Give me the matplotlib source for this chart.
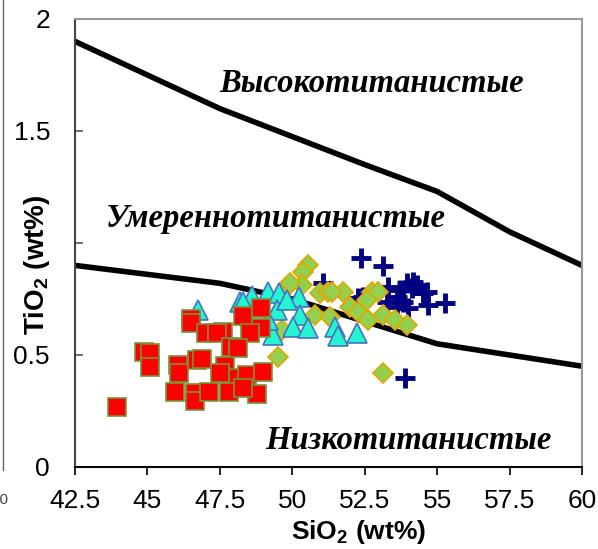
import matplotlib
matplotlib.use('Agg')
from matplotlib import pyplot as plt
from matplotlib.lines import Line2D

plt.rcParams['font.family'] = ['Liberation Sans', 'DejaVu Sans']
plt.rcParams['mathtext.fontset'] = 'custom'
plt.rcParams['mathtext.rm'] = 'Liberation Sans'
plt.rcParams['mathtext.bf'] = 'Liberation Sans:bold'

# граничные линии
upper_x = [42.5, 47.5, 52.5, 55, 57.5, 60]
upper_y = [1.9, 1.6, 1.35, 1.23, 1.05, 0.9]
lower_x = [42.5, 47.5, 50, 52.5, 55, 57.5, 60]
lower_y = [0.9, 0.82, 0.75, 0.65, 0.55, 0.5, 0.45]

# красные квадраты
sq_x = [43.94, 44.88, 45.09, 45.09, 46.49, 46.49, 47.02, 47.61, 47.39, 48.29,
        48.92, 48.91, 48.54, 47.88, 48.13, 46.06, 46.09, 46.70, 46.87, 47.68,
        48.13, 48.43, 48.99, 45.95, 46.64, 46.64, 47.13, 47.82, 48.78, 48.30,
        47.51]
sq_y = [0.27, 0.515, 0.51, 0.446, 0.659, 0.643, 0.598, 0.603, 0.598, 0.674,
        0.711, 0.622, 0.598, 0.537, 0.531, 0.455, 0.42, 0.478, 0.482, 0.451,
        0.397, 0.411, 0.425, 0.336, 0.33, 0.296, 0.335, 0.335, 0.326, 0.353,
        0.42]

# бирюзовые треугольники
tri_x = [46.76, 48.20, 48.61, 49.17, 49.55, 50.24, 48.31, 49.46, 50.27, 49.35,
         50.01, 50.55, 51.47, 51.59, 52.22, 49.82, 49.16]
tri_y = [0.70, 0.737, 0.763, 0.783, 0.778, 0.76, 0.738, 0.701, 0.679, 0.589,
         0.626, 0.619, 0.626, 0.585, 0.597, 0.745, 0.656]

# зелёные ромбы
dia_x = [50.55, 50.36, 49.81, 50.33, 50.96, 51.24, 51.76, 51.99, 52.28, 50.78,
         51.30, 52.62, 52.74, 52.97, 52.57, 53.14, 53.55, 53.95, 49.52, 53.14,
         49.64, 49.92, 51.36]
dia_y = [0.902, 0.872, 0.805, 0.813, 0.775, 0.783, 0.783, 0.716, 0.693, 0.679,
         0.671, 0.656, 0.783, 0.783, 0.746, 0.679, 0.656, 0.634, 0.492, 0.418,
         0.612, 0.82, 0.783]

# синие кресты
pl_x = [52.36, 53.12, 51.07, 53.31, 53.95, 54.18, 54.64, 55.27, 54.70, 53.60,
        53.83, 53.26, 54.00, 53.89, 52.28, 54.12, 54.32, 53.60, 52.45, 54.52,
        53.72]
pl_y = [0.932, 0.897, 0.82, 0.805, 0.82, 0.827, 0.783, 0.731, 0.723, 0.76,
        0.738, 0.738, 0.708, 0.396, 0.753, 0.798, 0.813, 0.716, 0.76, 0.775,
        0.79]

xticks = [42.5, 45, 47.5, 50, 52.5, 55, 57.5, 60]
xtick_labels = ['42.5', '45', '47.5', '50', '52.5', '55', '57.5', '60']
yticks = [0, 0.5, 1, 1.5, 2]
ytick_labels = ['0', '0.5', '1', '1.5', '2']

fig = plt.figure(figsize=(5.98, 5.49), dpi=100)
ax = fig.add_axes([75/598, 1-467/549, 507/598, 448/549])

ax.plot(upper_x, upper_y, color='black', lw=4, zorder=2, solid_joinstyle='round')
ax.plot(lower_x, lower_y, color='black', lw=4, zorder=2, solid_joinstyle='round')

ax.plot(pl_x, pl_y, '+', color='#000080', ms=14, mew=3.5, ls='none', zorder=3)
ax.plot(dia_x, dia_y, 'D', mfc='#92D050', mec='#E3A600', mew=1.2, ms=10.5,
        ls='none', zorder=4)
ax.plot(tri_x, tri_y, '^', mfc='#22F5D0', mec='#4A72C0', mew=1.2, ms=15,
        ls='none', zorder=5)
ax.plot(sq_x, sq_y, 's', mfc='#FF0000', mec='#77933C', mew=1.2, ms=13.5,
        ls='none', zorder=6)

tfont = dict(family='Liberation Serif', weight='bold', style='italic',
             fontsize=23.5, ha='center', va='center')
ax.text(52.75, 1.71, 'Высокотитанистые', **tfont)
ax.text(49.44, 1.11, 'Умереннотитанистые', **tfont)
ax.text(54.0, 0.12, 'Низкотитанистые', **tfont)

ax.set_xlim(42.5, 60)
ax.set_ylim(0, 2)
ax.set_xticks(xticks)
ax.set_xticklabels(xtick_labels)
ax.set_yticks(yticks)
ax.set_yticklabels(ytick_labels)
ax.tick_params(axis='x', direction='out', length=6, width=1.2, pad=10,
               labelsize=19, color='black')
ax.tick_params(axis='y', direction='in', length=6, width=1.2, pad=18,
               labelsize=19, color='#555555')

for s in ['top', 'right']:
    ax.spines[s].set_color('#999999')
    ax.spines[s].set_linewidth(1.5)
ax.spines['left'].set_color('#444444')
ax.spines['left'].set_linewidth(1.5)
ax.spines['bottom'].set_color('black')
ax.spines['bottom'].set_linewidth(1.5)

ax.set_xlabel(r'SiO$_\mathbf{2}$ (wt%)', fontsize=19, fontweight='bold', va='center')
ax.xaxis.set_label_coords(0.56, -0.145)
# подпись оси Y закрывает метку "1", как в оригинале
ax.set_ylabel(r'TiO$_\mathbf{2}$ (wt%)', fontsize=20, fontweight='bold', va='center',
              bbox=dict(facecolor='white', edgecolor='none', pad=0))
ax.yaxis.set_label_coords(-0.075, 0.452)

# обрезанный край соседнего рисунка
fig.add_artist(Line2D([3/598, 3/598], [1-470/549, 1], color='#666666', lw=1))
fig.text(8/598, 1-500/549, '50', fontsize=11, color='#444444', ha='right', va='center')

fig.savefig('out.png', dpi=100)
